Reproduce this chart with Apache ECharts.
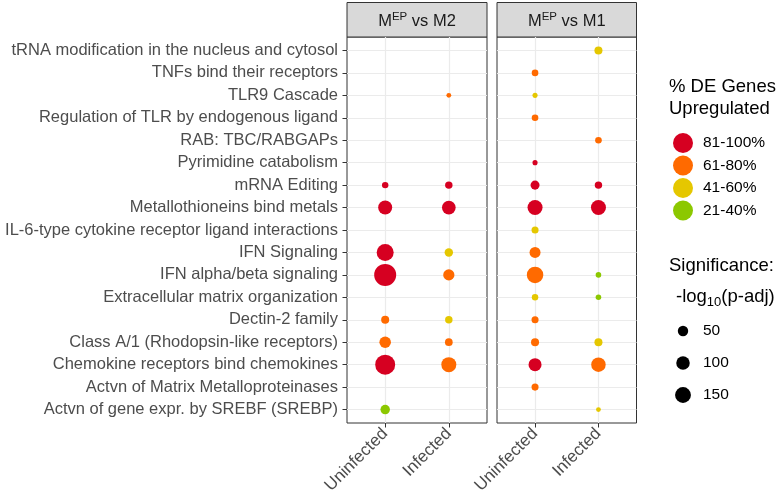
<!DOCTYPE html>
<html>
<head>
<meta charset="utf-8">
<script src="https://cdn.jsdelivr.net/npm/echarts@6/dist/echarts.min.js"></script>
<style>html,body{margin:0;padding:0;background:#fff}#c{width:782px;height:498px}</style>
</head>
<body>
<div id="c"></div>
<script>
// ---- data ----
const pathways = [
  'tRNA modification in the nucleus and cytosol',
  'TNFs bind their receptors',
  'TLR9 Cascade',
  'Regulation of TLR by endogenous ligand',
  'RAB: TBC/RABGAPs',
  'Pyrimidine catabolism',
  'mRNA Editing',
  'Metallothioneins bind metals',
  'IL-6-type cytokine receptor ligand interactions',
  'IFN Signaling',
  'IFN alpha/beta signaling',
  'Extracellular matrix organization',
  'Dectin-2 family',
  'Class A/1 (Rhodopsin-like receptors)',
  'Chemokine receptors bind chemokines',
  'Actvn of Matrix Metalloproteinases',
  'Actvn of gene expr. by SREBF (SREBP)'
];
const conditions = ['Uninfected', 'Infected'];
const pctBins = ['81-100%', '61-80%', '41-60%', '21-40%'];
const sizeBreaks = [50, 100, 150];

// significance (-log10 p-adj) per pathway, null = not present
const m2UninfSig = [null, null, null, null, null, null, 11, 110, null, 178, 327, null, 23, 66, 262, null, 38];
const m2UninfPct = [null, null, null, null, null, null, '81-100%', '81-100%', null, '81-100%', '81-100%', null, '61-80%', '61-80%', '81-100%', null, '21-40%'];
const m2InfSig   = [null, null, 3, null, null, null, 18, 104, null, 27, 62, null, 18, 20, 131, null, null];
const m2InfPct   = [null, null, '61-80%', null, null, null, '81-100%', '81-100%', null, '41-60%', '61-80%', null, '41-60%', '61-80%', '61-80%', null, null];
const m1UninfSig = [null, 12, 4, 12, null, 4, 33, 131, 15, 58, 165, 11, 15, 23, 91, 15, null];
const m1UninfPct = [null, '61-80%', '41-60%', '61-80%', null, '81-100%', '81-100%', '81-100%', '41-60%', '61-80%', '61-80%', '41-60%', '61-80%', '61-80%', '81-100%', '61-80%', null];
const m1InfSig   = [23, null, null, null, 12, null, 18, 131, null, null, 6, 6, null, 23, 120, null, 3];
const m1InfPct   = ['41-60%', null, null, null, '61-80%', null, '81-100%', '81-100%', null, null, '21-40%', '21-40%', null, '41-60%', '61-80%', null, '41-60%'];

// ---- styling ----
const binColors = {'81-100%': '#D60021', '61-80%': '#FF6A00', '41-60%': '#E5C700', '21-40%': '#8CC800'};
const FONT = 'Liberation Sans, Arial, sans-serif';
function sz(v) { return 3 + 1.05 * Math.sqrt(v); }

const panels = [
  {name: 'M2', left: 347, width: 140, cols: [[m2UninfSig, m2UninfPct], [m2InfSig, m2InfPct]]},
  {name: 'M1', left: 497, width: 139.5, cols: [[m1UninfSig, m1UninfPct], [m1InfSig, m1InfPct]]}
];
const TOP = 37, HEIGHT = 386;

const grids = [], xAxes = [], yAxes = [], series = [], graphics = [];
const yIdx = pathways.map((_, i) => i);
panels.forEach((p, pi) => {
  grids.push({left: p.left, width: p.width, top: TOP, height: HEIGHT, show: true,
    borderColor: '#333333', borderWidth: 1, backgroundColor: '#fff'});
  xAxes.push({type: 'value', gridIndex: pi, min: -0.6, max: 1.6, position: 'bottom',
    axisLine: {show: false, onZero: false},
    axisTick: {show: true, length: 4.5, lineStyle: {color: '#333'}, customValues: [0, 1]},
    axisLabel: {show: true, customValues: [0, 1], rotate: 45, color: '#4D4D4D', fontSize: 17, fontFamily: FONT, margin: 8,
      formatter: v => conditions[Math.round(v)]},
    splitLine: {show: true, lineStyle: {color: '#EBEBEB', width: 1.2}}
  });
  yAxes.push({type: 'value', gridIndex: pi, min: -0.6, max: 16.6, inverse: true, position: 'left',
    axisLine: {show: false, onZero: false},
    axisTick: {show: pi === 0, length: 4.5, lineStyle: {color: '#333'}, customValues: yIdx},
    axisLabel: {show: pi === 0, customValues: yIdx, color: '#4D4D4D', fontSize: 16.5, fontFamily: FONT, margin: 9,
      formatter: v => pathways[Math.round(v)]},
    splitLine: {show: true, lineStyle: {color: '#EBEBEB', width: 1.2}}
  });
  pctBins.forEach(bin => {
    const data = [];
    p.cols.forEach(([sig, pct], ci) => {
      sig.forEach((s, ri) => { if (s != null && pct[ri] === bin) data.push([ci, ri, s]); });
    });
    series.push({type: 'scatter', xAxisIndex: pi, yAxisIndex: pi, data: data,
      symbolSize: d => sz(d[2]), itemStyle: {color: binColors[bin], opacity: 1}, silent: true});
  });
  // strip header
  graphics.push({type: 'rect', shape: {x: p.left, y: 2.5, width: p.width, height: TOP - 2.5},
    style: {fill: '#D9D9D9', stroke: '#333333', lineWidth: 1}});
  graphics.push({type: 'text', x: p.left + p.width / 2, y: (TOP + 2.5) / 2 + 1,
    style: {text: '{n|M}{s|EP}{n| vs ' + p.name + '}', align: 'center', verticalAlign: 'middle',
      rich: {n: {fontSize: 16.5, fontFamily: FONT, fill: '#1A1A1A', verticalAlign: 'bottom'},
             s: {fontSize: 11.5, fontFamily: FONT, fill: '#1A1A1A', verticalAlign: 'top', padding: [0, 0, 7, 0]}}}});
});

// legends
const LX = 669;
graphics.push({type: 'text', x: LX, y: 87, style: {text: '% DE Genes', fontSize: 18.5, fontFamily: FONT, fill: '#000', verticalAlign: 'middle'}});
graphics.push({type: 'text', x: LX, y: 109, style: {text: 'Upregulated', fontSize: 18.5, fontFamily: FONT, fill: '#000', verticalAlign: 'middle'}});
pctBins.forEach((b, i) => {
  const y = 143 + i * 22.5;
  graphics.push({type: 'circle', shape: {cx: 683, cy: y, r: 10}, style: {fill: binColors[b]}});
  graphics.push({type: 'text', x: 703, y: y, style: {text: b, fontSize: 15.5, fontFamily: FONT, fill: '#000', verticalAlign: 'middle'}});
});
graphics.push({type: 'text', x: LX, y: 266, style: {text: 'Significance:', fontSize: 18.5, fontFamily: FONT, fill: '#000', verticalAlign: 'middle'}});
graphics.push({type: 'text', x: 676, y: 298, style: {text: '{n|-log}{s|10}{n|(p-adj)}', verticalAlign: 'middle',
  rich: {n: {fontSize: 18.5, fontFamily: FONT, fill: '#000', verticalAlign: 'top'}, s: {fontSize: 13, fontFamily: FONT, fill: '#000', verticalAlign: 'bottom', padding: [8, 0, 0, 0]}}}});
sizeBreaks.forEach((b, i) => {
  const y = 331 + i * 32;
  graphics.push({type: 'circle', shape: {cx: 683, cy: y, r: sz(b) / 2}, style: {fill: '#000'}});
  graphics.push({type: 'text', x: 703, y: y, style: {text: String(b), fontSize: 15.5, fontFamily: FONT, fill: '#000', verticalAlign: 'middle'}});
});

const chart = echarts.init(document.getElementById('c'), null, {renderer: 'canvas'});
chart.setOption({
  animation: false,
  grid: grids, xAxis: xAxes, yAxis: yAxes, series: series,
  graphic: {elements: graphics}
});
</script>
</body>
</html>
